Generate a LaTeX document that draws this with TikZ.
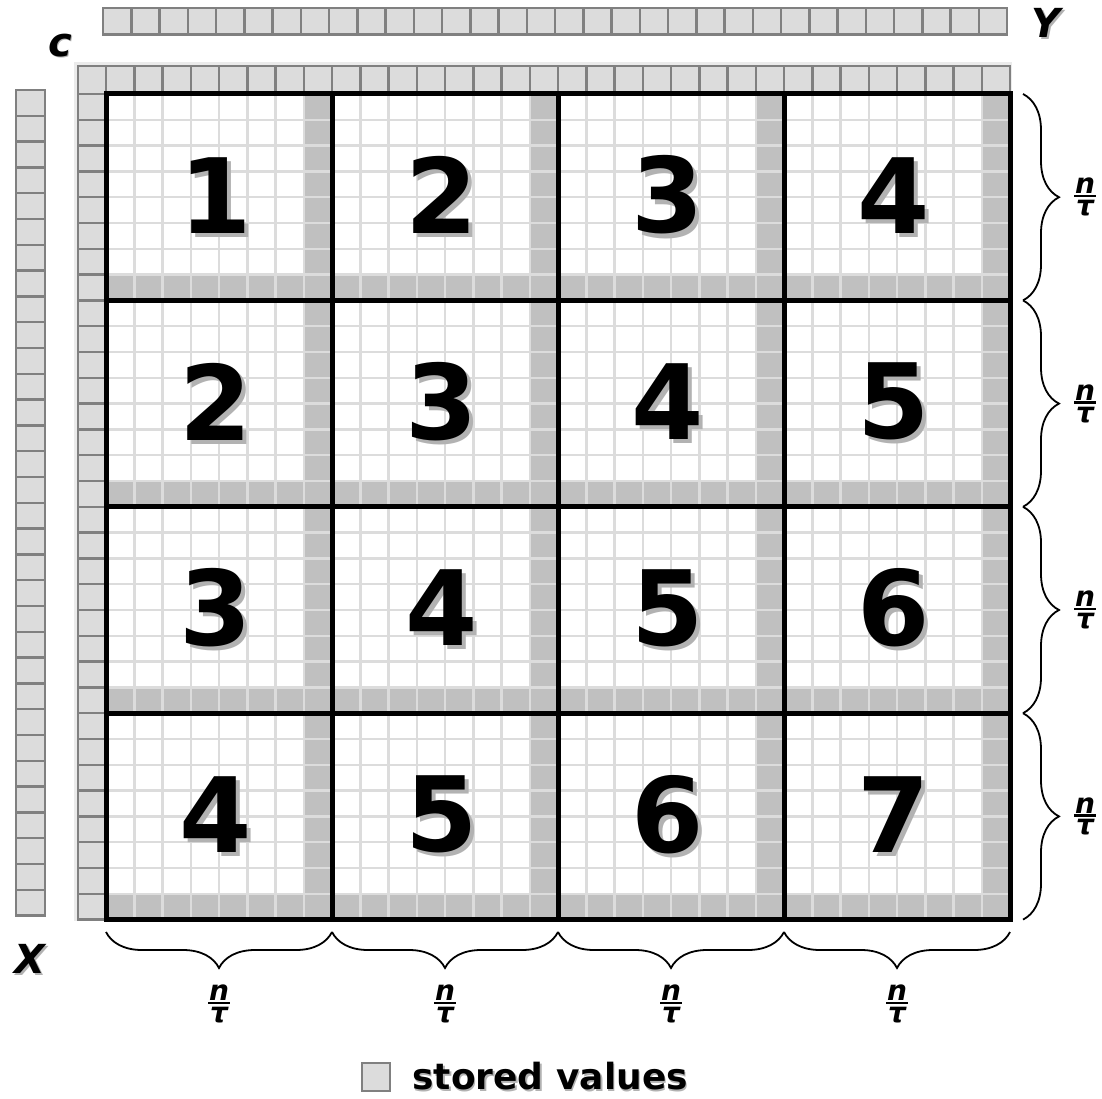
\documentclass[tikz,border=0pt]{standalone}
\usepackage{fontspec}
\setmainfont{DejaVu Sans}
\usepackage{tikz}
\usetikzlibrary{decorations.pathreplacing,positioning}
\definecolor{cellfill}{HTML}{DCDCDC}
\definecolor{cellline}{HTML}{808080}
\definecolor{blockshade}{HTML}{C0C0C0}
\definecolor{gridline}{HTML}{DCDCDC}
\newcommand\shad[1]{\makebox[0pt][l]{\hspace{0.04em}\raisebox{-0.04em}{\color{black!30}#1}}#1}
\newcommand\ntau{$\vcenter{\halign{\hfil##\hfil\cr \kern1pt n\kern1pt\cr\noalign{\kern1pt\hrule height 2.5pt\kern3pt}τ\cr}}$}
\def\cw{28.25}
\def\ch{25.8}

\begin{document}
\begin{tikzpicture}[x=1pt, y=-1pt,
  store/.style={fill=cellfill, draw=cellline, line width=2.5pt},
  blk/.style={line width=5pt, line cap=rect},
  brc/.style={decorate, decoration={brace, amplitude=36pt}, line width=1.8pt},
  lbl/.style={font=\fontsize{40}{40}\selectfont\bfseries\itshape},
  num/.style={font=\fontsize{104}{104}\selectfont\bfseries},
  frac/.style={font=\fontsize{28}{30}\selectfont\bfseries\itshape, inner sep=0pt}]
  \useasboundingbox (0,0) rectangle (1102,1099);

  % arrays X and Y
  \foreach \i in {0,...,31} {
    \draw[store] (103+\i*\cw,8) rectangle ++(\cw,26.5);
    \draw[store] (16,90+\i*\ch) rectangle ++(29,\ch);
  }

  % table c
  \fill[black!8] (74,62) rectangle (1012,94);
  \fill[black!8] (74,62) rectangle (106,921);
  \foreach \i in {0,...,32}
    \draw[store] (106+\i*\cw-\cw,66) rectangle ++(\cw,28);
  \foreach \i in {0,...,31}
    \draw[store] (78,94+\i*\ch) rectangle ++(28,\ch);

  \fill[white] (106,94) rectangle (1010,919.6);
  \foreach \k in {0,...,3} {
    \fill[blockshade] (106+8*\k*\cw+7*\cw,94) rectangle ++(\cw,825.6);
    \fill[blockshade] (106,94+8*\k*\ch+7*\ch) rectangle ++(904,\ch);
  }
  \foreach \i in {1,...,31} {
    \draw[gridline, line width=2.5pt] (106+\i*\cw,94) -- ++(0,825.6);
    \draw[gridline, line width=2.5pt] (106,94+\i*\ch) -- ++(904,0);
  }
  \foreach \k in {0,...,4} {
    \draw[blk] (106+8*\k*\cw,94) -- ++(0,825.6);
    \draw[blk] (106,94+8*\k*\ch) -- ++(904,0);
  }

  \foreach \i in {0,...,3}
    \foreach \j in {0,...,3} {
      \pgfmathtruncatemacro\v{\i+\j+1}
      \node[num] (n\i\j) at (103+\j*8*\cw+4*\cw, 94+\i*8*\ch+4*\ch) {\shad{\v}};
    }

  \node[lbl] (lc) at (60,46) {\shad{c}};
  \node[lbl] (ly) at (1046,24) {\shad{Y}};
  \node[lbl] (lx) at (30,960) {\shad{X}};

  % braces
  \foreach \k in {0,...,4} {
    \coordinate (r\k) at (1023,94+8*\k*\ch);
    \coordinate (b\k) at (106+8*\k*\cw,932);
  }
  \foreach \k/\m in {0/1,1/2,2/3,3/4} {
    \draw[brc] (r\k) -- (r\m);
    \draw[brc] (b\m) -- (b\k);
    \node[frac] (fr\k) at (1085,94+8*\k*\ch+4*\ch) {\ntau};
    \node[frac] (fb\k) at (106+8*\k*\cw+4*\cw,1004) {\ntau};
  }

  \node[store, minimum size=28pt, inner sep=0pt] (key) at (376,1077) {};
  \node[right=21pt of key, inner sep=0pt, font=\fontsize{36}{36}\selectfont\bfseries] (keytext) {\shad{stored values}};
\end{tikzpicture}
\end{document}
